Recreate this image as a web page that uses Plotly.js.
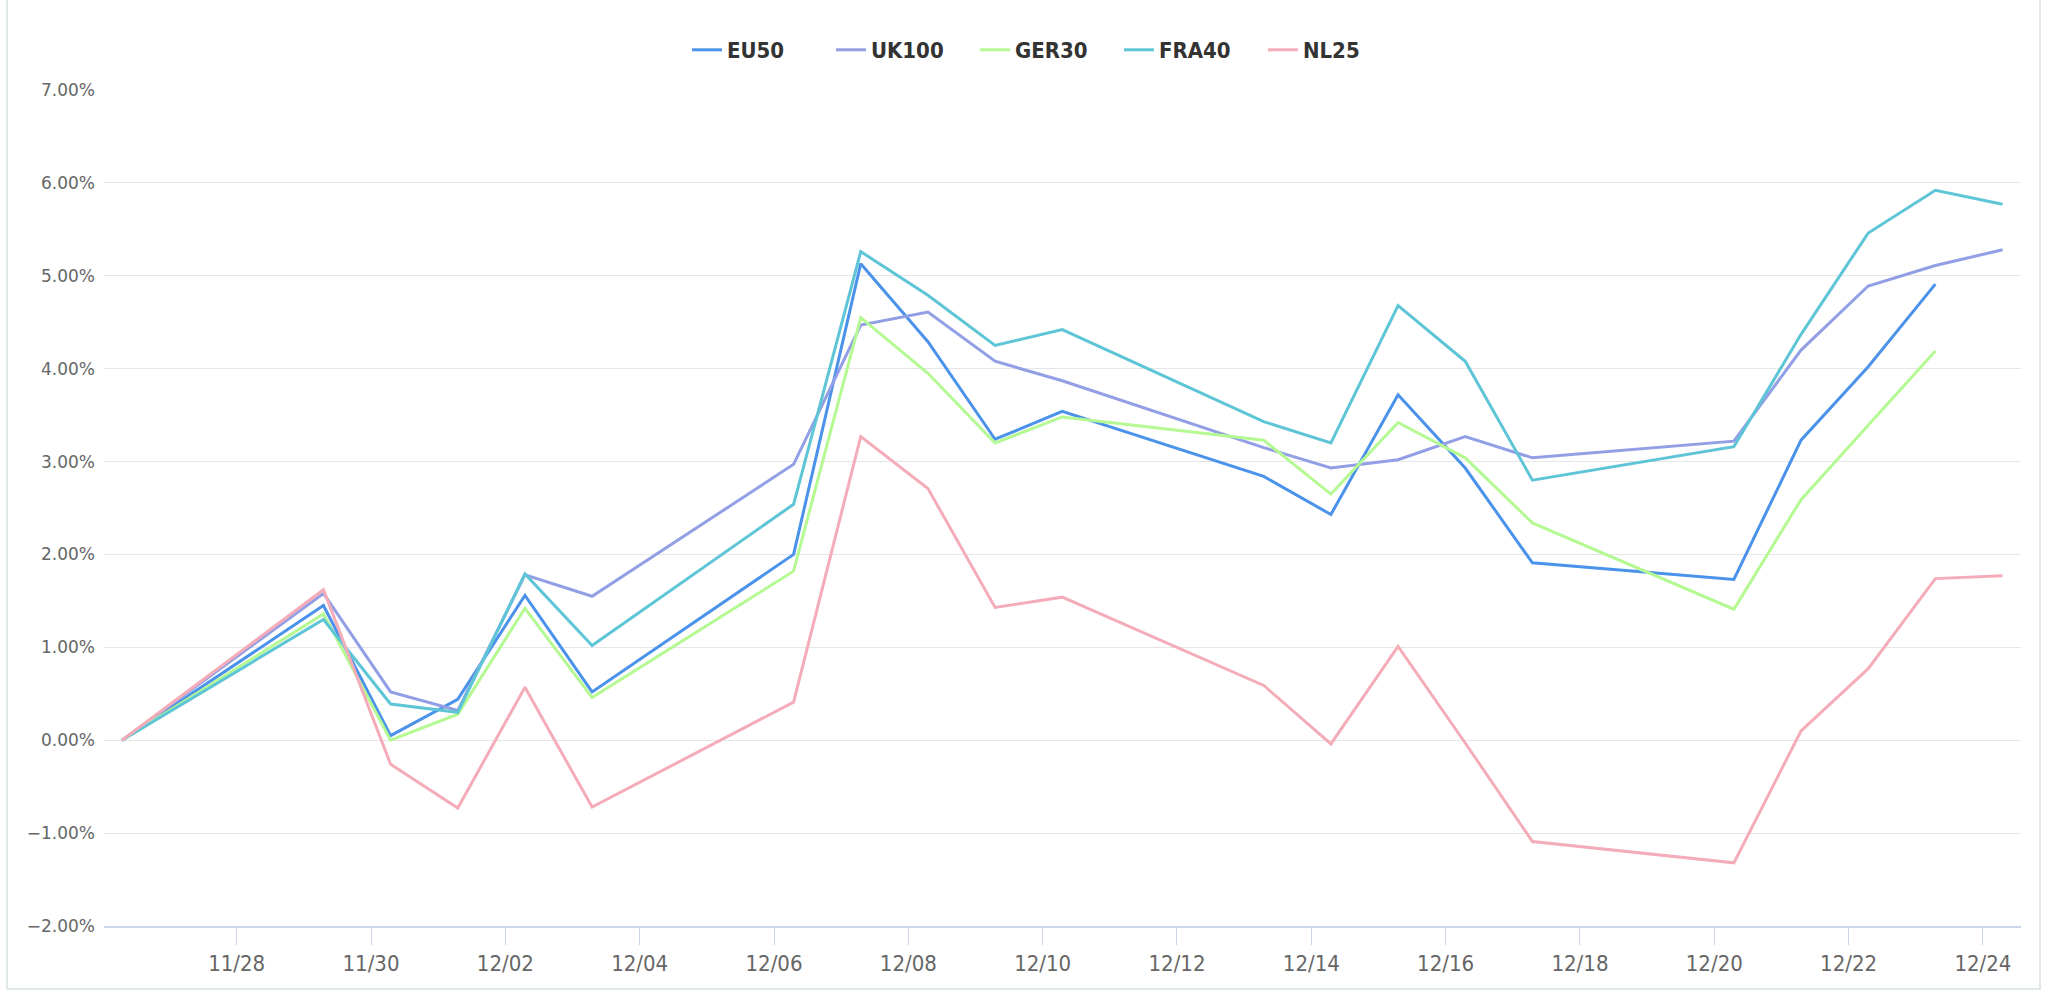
<!DOCTYPE html>
<html>
<head>
<meta charset="utf-8">
<script src="https://cdn.plot.ly/plotly-3.0.1.min.js"></script>
<style>
  html, body { margin: 0; padding: 0; background: #ffffff; width: 2048px; height: 1004px; overflow: hidden; }
  #frame { position: absolute; left: 6px; top: -4px; width: 2031px; height: 992px;
           border-left: 2px solid #e2e9e9; border-right: 2px solid #e2e9e9; border-bottom: 2px solid #e2e9e9; }
  #chart { position: absolute; left: 0; top: 0; width: 2048px; height: 1004px; }
</style>
</head>
<body>
<div id="frame"></div>
<div id="chart"></div>
<script>
// Trading dates (points sit at ~07:00 of each day)
const dates = ['2021-11-26 07:00','2021-11-29 07:00','2021-11-30 07:00','2021-12-01 07:00','2021-12-02 07:00',
  '2021-12-03 07:00','2021-12-06 07:00','2021-12-07 07:00','2021-12-08 07:00','2021-12-09 07:00',
  '2021-12-10 07:00','2021-12-13 07:00','2021-12-14 07:00','2021-12-15 07:00','2021-12-16 07:00',
  '2021-12-17 07:00','2021-12-20 07:00','2021-12-21 07:00','2021-12-22 07:00','2021-12-23 07:00',
  '2021-12-24 07:00'];

const seriesNames = ['EU50', 'UK100', 'GER30', 'FRA40', 'NL25'];

const EU50  = [0, 1.45, 0.05, 0.44, 1.56, 0.52, 2.00, 5.13, 4.29, 3.24, 3.54, 2.84, 2.43, 3.72, 2.93, 1.91, 1.73, 3.23, 4.02, 4.91, null];
const UK100 = [0, 1.58, 0.52, 0.32, 1.78, 1.55, 2.97, 4.47, 4.61, 4.08, 3.87, 3.15, 2.93, 3.02, 3.27, 3.04, 3.22, 4.20, 4.89, 5.11, 5.28];
const GER30 = [0, 1.36, 0.00, 0.28, 1.42, 0.46, 1.82, 4.55, 3.95, 3.20, 3.48, 3.23, 2.65, 3.42, 3.04, 2.34, 1.41, 2.59, 3.39, 4.19, null];
const FRA40 = [0, 1.30, 0.39, 0.30, 1.79, 1.02, 2.54, 5.26, 4.79, 4.25, 4.42, 3.43, 3.20, 4.68, 4.08, 2.80, 3.16, 4.37, 5.46, 5.92, 5.77];
const NL25  = [0, 1.62, -0.26, -0.73, 0.57, -0.72, 0.41, 3.27, 2.71, 1.43, 1.54, 0.59, -0.04, 1.01, -0.03, -1.09, -1.32, 0.10, 0.77, 1.74, 1.77];

const yTickVals = [-2, -1, 0, 1, 2, 3, 4, 5, 6, 7];
const yTickText = yTickVals.map(v => (v < 0 ? '\u2212' : '') + Math.abs(v).toFixed(2) + '%');

const colors = ['#4a92ea', '#929fe5', '#b5f993', '#5ec5d7', '#f4acb8'];
const values = [EU50, UK100, GER30, FRA40, NL25];

const traces = seriesNames.map((name, i) => ({
  type: 'scatter',
  mode: 'lines',
  name: name,
  x: dates,
  y: values[i],
  connectgaps: false,
  line: { color: colors[i], width: 3 },
  hoverinfo: 'x+y+name'
}));

const condensed = '"DejaVu Sans Condensed", "Liberation Sans Narrow", "DejaVu Sans", sans-serif';

const layout = {
  width: 2048,
  height: 1004,
  paper_bgcolor: 'rgba(0,0,0,0)',
  plot_bgcolor: 'rgba(0,0,0,0)',
  margin: { l: 104, r: 27, t: 90, b: 78, pad: 0 },
  showlegend: true,
  legend: {
    orientation: 'h',
    xref: 'container',
    x: 0.5112,
    xanchor: 'center',
    yref: 'container',
    y: 1 - 50 / 1004,
    yanchor: 'middle',
    font: { family: condensed, size: 22, color: '#333333', weight: 'bold' },
    itemwidth: 30,
    entrywidth: 99,
    entrywidthmode: 'pixels',
    tracegroupgap: 0,
    bgcolor: 'rgba(0,0,0,0)'
  },
  xaxis: {
    type: 'date',
    range: ['2021-11-26 00:35', '2021-12-24 13:36'],
    tick0: '2021-11-28',
    dtick: 2 * 86400000,
    tickformat: '%m/%d',
    showgrid: false,
    zeroline: false,
    showline: true,
    linecolor: '#ccd6eb',
    linewidth: 2,
    ticks: 'outside',
    ticklen: 17,
    tickwidth: 1,
    tickcolor: '#ccd6eb',
    tickfont: { family: condensed, size: 22, color: '#666666' },
    fixedrange: true
  },
  yaxis: {
    range: [-2, 7],
    tickmode: 'array',
    tickvals: yTickVals,
    ticktext: yTickText,
    showgrid: true,
    gridcolor: '#e6e6e6',
    gridwidth: 1,
    zeroline: false,
    showline: false,
    ticks: '',
    ticklabelstandoff: 8,
    tickfont: { family: '"DejaVu Sans", Verdana, sans-serif', size: 17, color: '#666666' },
    fixedrange: true
  }
};

Plotly.newPlot('chart', traces, layout, { displayModeBar: false, staticPlot: true });
</script>
</body>
</html>
